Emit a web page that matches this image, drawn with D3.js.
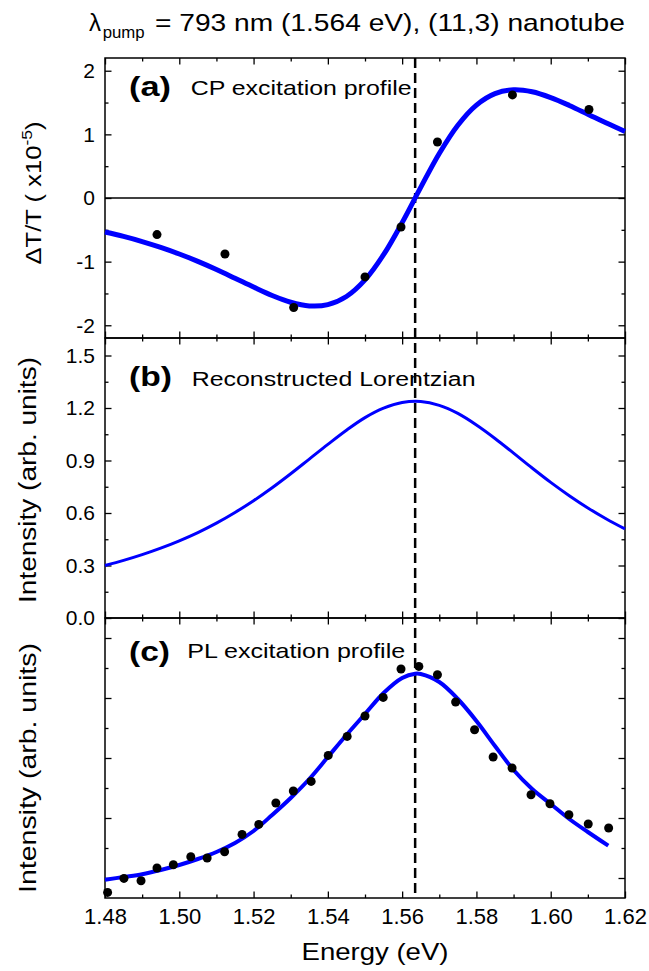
<!DOCTYPE html>
<html>
<head>
<meta charset="utf-8">
<script src="https://cdn.jsdelivr.net/npm/d3@7"></script>
<style>
  body { margin: 0; background: #fff; }
</style>
</head>
<body>
<svg id="chart" width="649" height="971"></svg>
<script>
// ---- data ----
const xMajor = [1.48, 1.50, 1.52, 1.54, 1.56, 1.58, 1.60, 1.62];
const xMinor = [1.49, 1.51, 1.53, 1.55, 1.57, 1.59, 1.61];
const pumpEnergy = 1.5635;

// (a) CP excitation profile
const energyA = [1.494, 1.5123, 1.5308, 1.550, 1.5597, 1.5695, 1.5897, 1.6103];
const signalA = [-0.575, -0.88, -1.72, -1.24, -0.456, 0.88, 1.62, 1.39];
const fitEnergy = [1.480, 1.485, 1.490, 1.495, 1.500, 1.505, 1.510, 1.515, 1.520, 1.525,
  1.530, 1.535, 1.540, 1.545, 1.550, 1.555, 1.560, 1.565, 1.570, 1.575,
  1.580, 1.585, 1.590, 1.595, 1.600, 1.605, 1.610, 1.615, 1.620];
const fitA = [-0.534, -0.604, -0.684, -0.776, -0.880, -0.996, -1.124, -1.261, -1.400, -1.532,
  -1.638, -1.696, -1.676, -1.548, -1.287, -0.891, -0.387, 0.167, 0.700, 1.144,
  1.460, 1.640, 1.700, 1.669, 1.578, 1.455, 1.317, 1.178, 1.046];
const yTicksA = [-2, -1, 0, 1, 2];
const yMinorA = [-1.5, -0.5, 0.5, 1.5];

// (b) reconstructed Lorentzian
const fitB = [0.300, 0.329, 0.362, 0.399, 0.441, 0.488, 0.542, 0.603, 0.670, 0.744,
  0.824, 0.908, 0.992, 1.073, 1.145, 1.199, 1.231, 1.237, 1.215, 1.169,
  1.103, 1.026, 0.942, 0.857, 0.775, 0.699, 0.629, 0.566, 0.509];
const yTicksB = [0, 0.3, 0.6, 0.9, 1.2, 1.5];
const yMinorB = [0.15, 0.45, 0.75, 1.05, 1.35];

// (c) PL excitation profile
const energyC = [1.4807, 1.4851, 1.4897, 1.494, 1.4984, 1.5031, 1.5075, 1.5122, 1.5169, 1.5214,
  1.526, 1.5307, 1.5355, 1.5401, 1.5452, 1.55, 1.5549, 1.5597, 1.5645, 1.5695,
  1.5744, 1.5795, 1.5845, 1.5896, 1.5947, 1.5998, 1.6049, 1.6101, 1.6156];
const intensityC = [-0.144, -0.004, -0.027, 0.10, 0.133, 0.213, 0.20, 0.263, 0.436, 0.536,
  0.75, 0.87, 0.966, 1.226, 1.416, 1.62, 1.806, 2.09, 2.116, 2.033,
  1.76, 1.483, 1.21, 1.10, 0.833, 0.743, 0.633, 0.54, 0.50];
const fitEnergyC = [1.480, 1.485, 1.490, 1.495, 1.500, 1.505, 1.510, 1.515, 1.520, 1.525,
  1.530, 1.535, 1.540, 1.545, 1.550, 1.555, 1.560, 1.5635, 1.565, 1.570,
  1.575, 1.580, 1.585, 1.590, 1.595, 1.600, 1.605, 1.610, 1.6155];
const fitC = [-0.017, 0.010, 0.038, 0.080, 0.130, 0.190, 0.260, 0.350, 0.47, 0.63,
  0.80, 0.99, 1.21, 1.43, 1.64, 1.85, 2.00, 2.043, 2.04, 1.96,
  1.79, 1.57, 1.32, 1.08, 0.89, 0.74, 0.59, 0.46, 0.323];
const yTicksC = [0, 0.6, 1.2, 1.8, 2.4];
const yMinorC = [0.3, 0.9, 1.5, 2.1];

// ---- layout ----
const FONT = "'Liberation Sans', Arial, Helvetica, sans-serif";
const BLUE = "#0000ff";
const left = 105, right = 625, panelH = 280;
const tops = [58, 338, 618];

const svg = d3.select("#chart");
const x = d3.scaleLinear().domain([1.48, 1.62]).range([left, right]);

// squeeze/stretch a text so it spans w pixels (the figure's font runs wide)
function fitWidth(t, w) {
  const len = t.node().getComputedTextLength();
  t.attr("transform", (t.attr("transform") || "") + " scale(" + (w / len) + ",1)");
  return t;
}

function label(parent, px, py, str, size, w, opts) {
  opts = opts || {};
  const t = parent.append("text")
    .attr("transform", "translate(" + px + "," + py + ")" + (opts.rotate ? " rotate(-90)" : ""))
    .attr("font-family", FONT)
    .attr("font-size", size)
    .attr("font-weight", opts.bold ? "bold" : null)
    .attr("text-anchor", opts.anchor || "start")
    .text(str);
  if (w) fitWidth(t, w);
  return t;
}

function drawPanel(top, domain, major, minor, yFmt, xLabels) {
  const y = d3.scaleLinear().domain(domain).range([top + panelH, top]);
  const g = svg.append("g");

  const ax = [
    [d3.axisBottom(x), top + panelH, xMajor, xMinor, "x"],
    [d3.axisTop(x), top, xMajor, xMinor, "x"],
    [d3.axisLeft(y), left, major, minor, "y"],
    [d3.axisRight(y), right, major, minor, "y"]
  ];
  ax.forEach(function(a) {
    const pos = a[4] === "x" ? "translate(0," + a[1] + ")" : "translate(" + a[1] + ",0)";
    g.append("g").attr("transform", pos)
      .call(a[0].tickValues(a[3]).tickSize(-3.5).tickSizeOuter(0).tickFormat(""))
      .call(s => s.select(".domain").remove());
    g.append("g").attr("transform", pos)
      .call(a[0].tickValues(a[2]).tickSize(-6.5).tickSizeOuter(0).tickFormat(""))
      .call(s => s.select(".domain").remove());
  });
  g.selectAll(".tick line").attr("stroke", "#000").attr("stroke-width", 1.3);

  if (yFmt) {
    g.append("g").attr("transform", "translate(" + left + ",0)")
      .call(d3.axisLeft(y).tickValues(major).tickSize(0).tickPadding(10).tickFormat(yFmt))
      .call(s => s.select(".domain").remove())
      .selectAll("text").attr("font-family", FONT).attr("font-size", 21).attr("fill", "#000");
  }
  if (xLabels) {
    g.append("g").attr("transform", "translate(0," + (top + panelH) + ")")
      .call(d3.axisBottom(x).tickValues(xMajor).tickSize(0).tickPadding(10).tickFormat(d => d.toFixed(2)))
      .call(s => s.select(".domain").remove())
      .selectAll("text").attr("font-family", FONT).attr("font-size", 22).attr("fill", "#000");
  }

  g.append("rect")
    .attr("x", left).attr("y", top)
    .attr("width", right - left).attr("height", panelH)
    .attr("fill", "none").attr("stroke", "#000").attr("stroke-width", 1.5);
  return y;
}

const yA = drawPanel(tops[0], [-2.2, 2.2], yTicksA, yMinorA, d => String(d), false);
const yB = drawPanel(tops[1], [0, 1.6], yTicksB, yMinorB, d => d.toFixed(1), false);
const yC = drawPanel(tops[2], [-0.2, 2.6], yTicksC, yMinorC, null, true);

// zero line in (a)
svg.append("line")
  .attr("x1", left).attr("x2", right)
  .attr("y1", yA(0)).attr("y2", yA(0))
  .attr("stroke", "#000").attr("stroke-width", 1.3);

// pump energy marker
svg.append("line")
  .attr("x1", x(pumpEnergy)).attr("x2", x(pumpEnergy))
  .attr("y1", tops[0]).attr("y2", tops[2] + panelH)
  .attr("stroke", "#000").attr("stroke-width", 2.5)
  .attr("stroke-dasharray", "10,5");

function curve(xs, ys, y, width) {
  const line = d3.line()
    .curve(d3.curveCatmullRom.alpha(0.5))
    .x(d => x(d[0]))
    .y(d => y(d[1]));
  svg.append("path")
    .attr("d", line(xs.map((v, i) => [v, ys[i]])))
    .attr("fill", "none")
    .attr("stroke", BLUE)
    .attr("stroke-width", width)
    .attr("stroke-linejoin", "round");
}

function dots(xs, ys, y) {
  svg.append("g").selectAll("circle")
    .data(xs.map((v, i) => [v, ys[i]]))
    .join("circle")
    .attr("cx", d => x(d[0]))
    .attr("cy", d => y(d[1]))
    .attr("r", 4.5)
    .attr("fill", "#000");
}

curve(fitEnergy, fitA, yA, 5);
dots(energyA, signalA, yA);
curve(fitEnergy, fitB, yB, 3);
curve(fitEnergyC, fitC, yC, 4);
dots(energyC, intensityC, yC);

// panel captions
label(svg, 129, 96, "(a)", 28, 42, {bold: true});
label(svg, 190.7, 95, "CP excitation profile", 21, 221);
label(svg, 129, 386, "(b)", 28, 43, {bold: true});
label(svg, 191.7, 386, "Reconstructed Lorentzian", 21, 284);
label(svg, 129, 661, "(c)", 28, 41, {bold: true});
label(svg, 187.3, 658, "PL excitation profile", 21, 218);

// title
label(svg, 89, 31, "\u03bb", 24);
label(svg, 102.7, 38, "pump", 16, 42);
label(svg, 155, 31, "= 793 nm (1.564 eV), (11,3) nanotube", 24, 470);

// axis titles
const ya = svg.append("text")
  .attr("transform", "translate(41,193) rotate(-90)")
  .attr("font-family", FONT).attr("font-size", 22)
  .attr("text-anchor", "middle");
ya.append("tspan").text("\u0394T/T ( x10");
ya.append("tspan").attr("font-size", 15).attr("dy", -9).text("-5");
ya.append("tspan").attr("dy", 9).text(")");
fitWidth(ya, 143);

label(svg, 36, 480, "Intensity (arb. units)", 23, 246, {rotate: true, anchor: "middle"});
label(svg, 36, 768, "Intensity (arb. units)", 23, 250, {rotate: true, anchor: "middle"});
label(svg, 375, 960, "Energy (eV)", 23, 147, {anchor: "middle"});
</script>
</body>
</html>
